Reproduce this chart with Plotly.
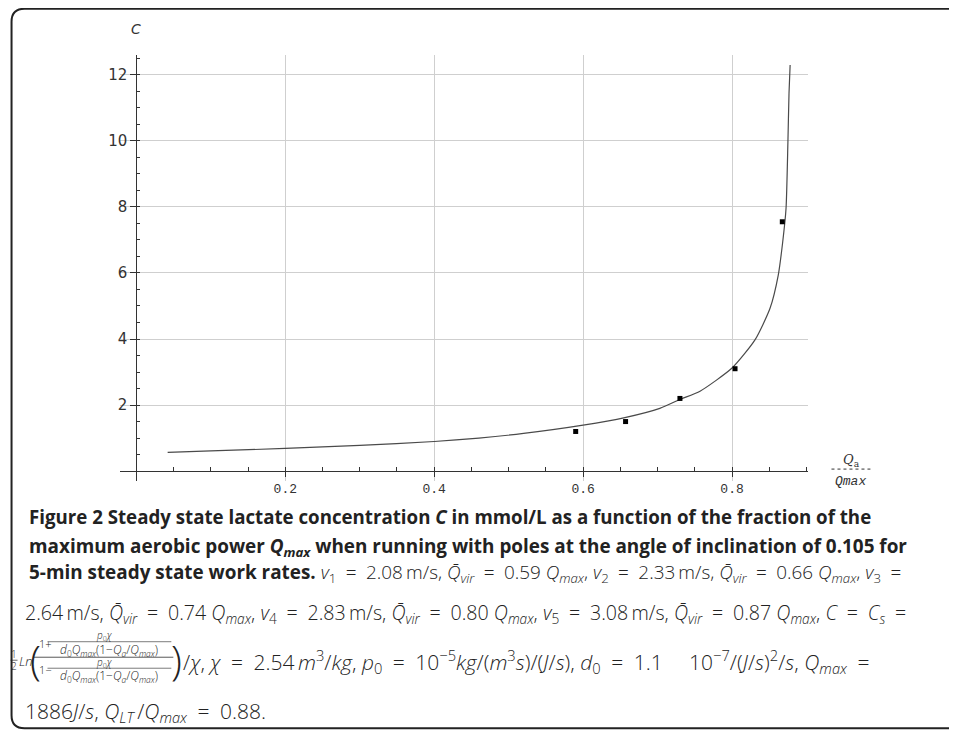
import plotly.graph_objects as go

# curve: C (mmol/L) against Qa/Qmax
q_curve = [0.042, 0.1, 0.2, 0.3, 0.4, 0.46, 0.52, 0.6, 0.656, 0.703, 0.73, 0.757,
           0.8, 0.831, 0.851, 0.862, 0.868, 0.8725, 0.875, 0.8765, 0.878]
c_curve = [0.565, 0.61, 0.686, 0.78, 0.896, 1.0, 1.14, 1.39, 1.62, 1.90, 2.17, 2.42,
           3.12, 3.98, 4.93, 5.93, 6.93, 7.95, 9.94, 11.44, 12.3]

# measured points
q_points = [0.590, 0.657, 0.730, 0.804, 0.8675]
c_points = [1.20, 1.50, 2.20, 3.10, 7.55]

x_ticks = [0.2, 0.4, 0.6, 0.8]
x_tick_text = ['0.2', '0.4', '0.6', '0.8']
y_ticks = [2, 4, 6, 8, 10, 12]
y_tick_text = ['2', '4', '6', '8', '10', '12']

x_range = [-0.022, 0.902]
y_range = [-0.3, 12.6]

# page pixels; the browser puts the figure 8px in from the corner
OFF = 8
L, T, W, H = 119.6, 55.2, 688.9, 425.7
FW, FH = 957 - OFF, 730 - OFF


def px(x):
    return (x - L) / W


def py(y):
    return (T + H - y) / H


fig = go.Figure()
fig.add_trace(go.Scatter(x=q_curve, y=c_curve, mode='lines',
                         line=dict(color='#4a4a4a', width=1.2, shape='spline', smoothing=0.6),
                         hoverinfo='skip', showlegend=False))
fig.add_trace(go.Scatter(x=q_points, y=c_points, mode='markers',
                         marker=dict(symbol='square', size=5, color='black'),
                         showlegend=False))

x_pos = (0 - y_range[0]) / (y_range[1] - y_range[0])
y_pos = (0 - x_range[0]) / (x_range[1] - x_range[0])

fig.update_xaxes(range=x_range, anchor='free', position=x_pos,
                 showline=True, linecolor='#333', linewidth=1,
                 tickmode='array', tickvals=x_ticks, ticktext=x_tick_text,
                 ticks='outside', ticklen=5, tickcolor='#333', tickwidth=1,
                 minor=dict(tick0=0, dtick=0.05, ticks='inside', ticklen=4,
                            tickcolor='#333', showgrid=False),
                 showgrid=True, gridcolor='#cfcfcf', gridwidth=1,
                 zeroline=False,
                 tickfont=dict(family='Liberation Mono', size=13, color='#333'))
fig.update_yaxes(range=y_range, anchor='free', position=y_pos,
                 showline=True, linecolor='#333', linewidth=1,
                 tickmode='array', tickvals=y_ticks, ticktext=y_tick_text,
                 ticks='outside', ticklen=6, tickcolor='#333', tickwidth=1,
                 minor=dict(tick0=0, dtick=0.5, ticks='inside', ticklen=3,
                            tickcolor='#333', showgrid=False),
                 showgrid=True, gridcolor='#cfcfcf', gridwidth=1,
                 zeroline=False,
                 tickfont=dict(family='DejaVu Sans', size=15, color='#333'))

ann = []
CAP = 'Open Sans'


def text(xp, yp, s, size, family=CAP, color='#222', anchor='left', weight=None):
    f = dict(family=family, size=size, color=color)
    if weight is not None:
        f['weight'] = weight
    ann.append(dict(x=px(xp), y=py(yp), xref='paper', yref='paper', text=s,
                    showarrow=False, xanchor=anchor, yanchor='middle', font=f))


shapes = []


def hline(x0, x1, y, width=1, color='#333', dash=None):
    ln = dict(color=color, width=width)
    if dash:
        ln['dash'] = dash
    shapes.append(dict(type='line', xref='paper', yref='paper',
                       x0=px(x0), x1=px(x1), y0=py(y), y1=py(y), line=ln))


# axis titles
text(136, 29, '<i>C</i>', 14, family='DejaVu Sans', color='#333', anchor='center')
text(852, 460, '<i>Q</i><sub>a</sub>', 13, family='DejaVu Serif', color='#333', anchor='center')
hline(832, 871, 469, width=1, dash='dot')
text(851, 481, '<i>Qmax</i>', 13, family='Liberation Mono', color='#333', anchor='center')

# caption
EQ = '\u2002=\u2002'
EQ_END = '\u2002='
TH = '\u2009'
Q = '<i>Q</i><sub><i>max</i></sub>'
QV = '<i>Q\u0304</i><sub><i>vir</i></sub>'
text(26, 516, '<b>Figure 2 Steady state lactate concentration <i>C</i> in mmol/L as a function of the fraction of the</b>', 18.7)
text(26, 547, '<b>maximum aerobic power ' + Q + ' when running with poles at the angle of inclination of 0.105 for</b>', 18.9)
text(26, 573, '<b>5-min steady state work rates.</b> <i>v</i><sub>1</sub>' + EQ + '2.08' + TH + 'm/s, ' + QV + EQ + '0.59 ' + Q +
     ', <i>v</i><sub>2</sub>' + EQ + '2.33' + TH + 'm/s, ' + QV + EQ + '0.66 ' + Q + ', <i>v</i><sub>3</sub>' + EQ_END,
     18.9, weight=300)
text(22, 613, '2.64' + TH + 'm/s, ' + QV + EQ + '0.74 ' + Q + ', <i>v</i><sub>4</sub>' + EQ + '2.83' + TH + 'm/s, ' + QV + EQ + '0.80 ' + Q +
     ', <i>v</i><sub>5</sub>' + EQ + '3.08' + TH + 'm/s, ' + QV + EQ + '0.87 ' + Q + ', <i>C</i>' + EQ + '<i>C</i><sub><i>s</i></sub>' + EQ_END,
     19.6, weight=300)

# C_s = 1/2 Ln(...)/chi
text(13.5, 654, '1', 10, anchor='center', weight=300)
text(13.5, 666, '2', 10, anchor='center', weight=300)
hline(10, 17, 660, width=0.8, color='#444')
text(16.5, 661, '<i>Ln</i>', 13, weight=300)
text(35, 659, '(', 40, anchor='center', weight=300)
text(176, 659, ')', 40, anchor='center', weight=300)
text(36.5, 643.5, '1+', 11, weight=300)
text(36.5, 669.5, '1\u2212', 11, weight=300)
small_num = '<i>p</i><sub>0</sub><i>\u03c7</i>'
small_den = '<i>d</i><sub>0</sub><i>Q</i><sub><i>max</i></sub>(1\u2212<i>Q</i><sub><i>a</i></sub>/<i>Q</i><sub><i>max</i></sub>)'
text(104, 635.5, small_num, 10, anchor='center', weight=300)
hline(47, 171, 641.5, width=0.7, color='#444')
text(109, 649.5, small_den, 12, anchor='center', weight=300)
hline(33, 173, 657, width=0.9, color='#444')
text(104, 662, small_num, 10, anchor='center', weight=300)
hline(47, 171, 668, width=0.7, color='#444')
text(109, 676, small_den, 12, anchor='center', weight=300)
text(181, 661, '/<i>\u03c7</i>, <i>\u03c7</i>' + EQ + '2.54' + TH + '<i>m</i><sup>3</sup>/<i>kg</i>, <i>p</i><sub>0</sub>' + EQ +
     '10<sup>\u22125</sup><i>kg</i>/(<i>m</i><sup>3</sup><i>s</i>)/(<i>J</i>/<i>s</i>), '
     '<i>d</i><sub>0</sub>' + EQ + '1.1\u2003 10<sup>\u22127</sup>/(<i>J</i>/<i>s</i>)<sup>2</sup>/<i>s</i>, ' + Q + EQ_END,
     21, weight=300)
text(22, 712, '1886<i>J</i>/<i>s</i>, <i>Q</i><sub><i>LT</i></sub>' + TH + '/' + Q + EQ + '0.88.', 21, weight=300)

# rounded frame (right edge runs off the page)
x0, y0, x1, y1, r = 11, 9, 975, 728, 13
frame = ('M {a},{b} L {c},{b} L {c},{d} L {a},{d} Q {e},{d} {e},{f} L {e},{g} Q {e},{b} {a},{b} Z'
         .format(a=px(x0 + r), b=py(y0), c=px(x1), d=py(y1), e=px(x0), f=py(y1 - r), g=py(y0 + r)))
shapes.append(dict(type='path', xref='paper', yref='paper', path=frame,
                   line=dict(color='#222', width=2)))

fig.update_layout(width=FW, height=FH,
                  margin=dict(l=L - OFF, r=FW - (L - OFF) - W, t=T - OFF, b=FH - (T - OFF) - H, pad=0),
                  paper_bgcolor='white', plot_bgcolor='white',
                  annotations=ann, shapes=shapes)

fig.write_html("out.html")
